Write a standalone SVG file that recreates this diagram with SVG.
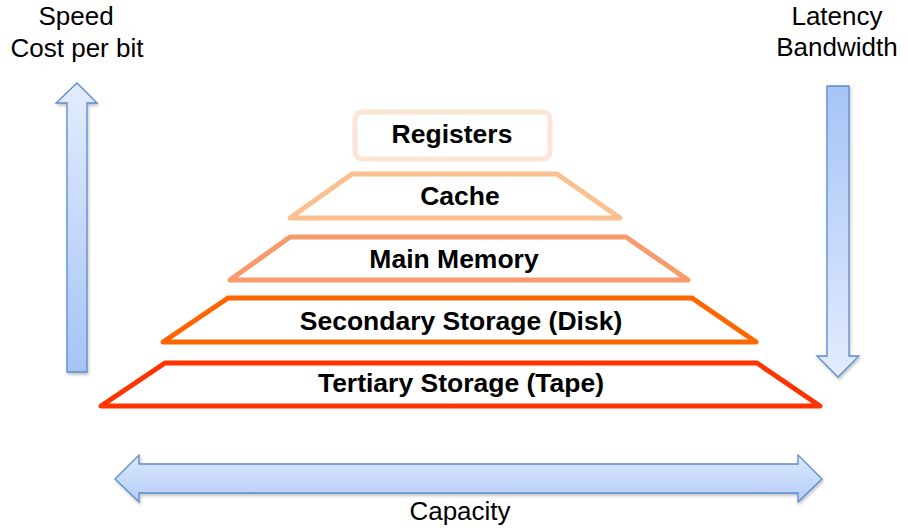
<svg xmlns="http://www.w3.org/2000/svg" width="908" height="531" viewBox="0 0 908 531">
<defs>
  <linearGradient id="gUp" x1="0" y1="0" x2="0" y2="1">
    <stop offset="0" stop-color="#E3ECFD"/>
    <stop offset="1" stop-color="#A6C4F6"/>
  </linearGradient>
  <linearGradient id="gDown" x1="0" y1="0" x2="0" y2="1">
    <stop offset="0" stop-color="#A6C4F6"/>
    <stop offset="1" stop-color="#E3ECFD"/>
  </linearGradient>
  <linearGradient id="gH" x1="0" y1="0" x2="0" y2="1">
    <stop offset="0" stop-color="#DDE8FC"/>
    <stop offset="1" stop-color="#B3CDF7"/>
  </linearGradient>
  <filter id="sh" x="-20%" y="-20%" width="140%" height="140%">
    <feDropShadow dx="1" dy="2" stdDeviation="1.5" flood-color="#000" flood-opacity="0.25"/>
  </filter>
</defs>
<style>
  .arr { stroke: #5B8BCB; stroke-width: 1.3; stroke-linejoin: miter; filter: url(#sh); }
  .lvl { fill: #FFFFFF; stroke-width: 5; stroke-linejoin: round; }
  .lbl { font-family: "Liberation Sans", Arial, sans-serif; font-weight: bold; font-size: 26.5px; text-anchor: middle; fill: #000; }
  .axis { font-family: "Liberation Sans", Arial, sans-serif; font-size: 26px; text-anchor: middle; fill: #000; }
</style>

<g id="connectors">
  <path id="arrow-up" class="arr" fill="url(#gUp)" d="M77 83 L97 103 L87 103 L87 372 L67 372 L67 103 L56 103 Z"/>
  <path id="arrow-down" class="arr" fill="url(#gDown)" d="M827 86 L849 86 L849 356 L859 356 L838 377 L817 356 L827 356 Z"/>
  <path id="arrow-capacity" class="arr" fill="url(#gH)" d="M115 479 L139 455 L139 464 L798 464 L798 455 L822 479 L798 502 L798 493 L139 493 L139 502 Z"/>
</g>

<g id="registers">
  <rect class="lvl" x="355" y="112" width="195" height="47" rx="7" stroke="#FCE4D6"/>
  <text class="lbl" x="452" y="143">Registers</text>
</g>
<g id="cache">
  <polygon class="lvl" points="352,174 557,174 620,218 290,218" stroke="#FAC090"/>
  <text class="lbl" x="460" y="205">Cache</text>
</g>
<g id="main-memory">
  <polygon class="lvl" points="290,237 626,237 688,280 230,280" stroke="#F99A6A"/>
  <text class="lbl" x="454" y="268">Main Memory</text>
</g>
<g id="secondary-storage">
  <polygon class="lvl" points="228,298 692,298 756,342 163,342" stroke="#FF6600"/>
  <text class="lbl" x="461" y="330">Secondary Storage (Disk)</text>
</g>
<g id="tertiary-storage">
  <polygon class="lvl" points="165,363 757,363 820,406 101,406" stroke="#FF3300"/>
  <text class="lbl" x="461" y="392">Tertiary Storage (Tape)</text>
</g>

<g id="labels">
  <text class="axis" x="76" y="25">Speed</text>
  <text class="axis" x="77" y="57">Cost per bit</text>
  <text class="axis" x="837" y="25">Latency</text>
  <text class="axis" x="837" y="56">Bandwidth</text>
  <text class="axis" x="460" y="520">Capacity</text>
</g>
</svg>
